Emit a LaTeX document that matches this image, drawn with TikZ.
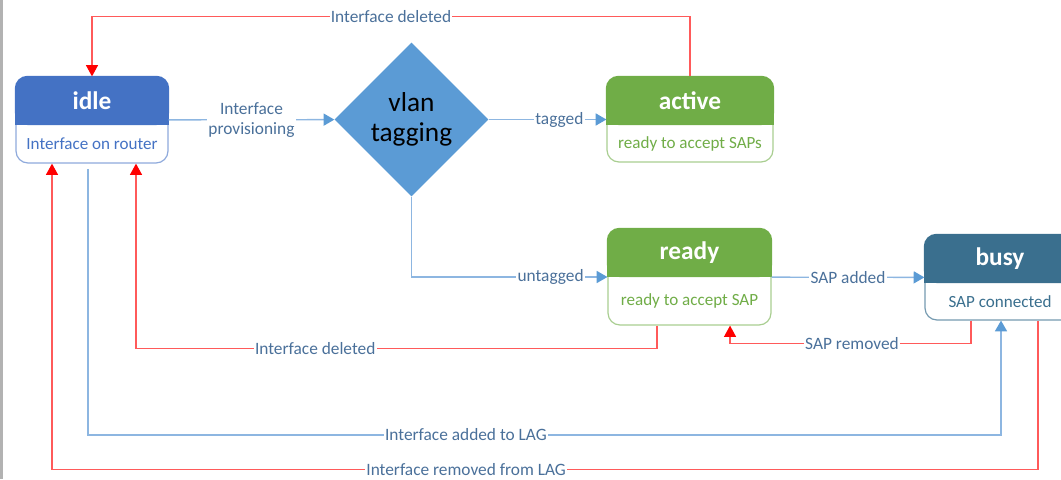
\documentclass[tikz,border=0pt]{standalone}
\usepackage{fontspec}
\setmainfont{Carlito}
\usetikzlibrary{shapes,arrows.meta,positioning,calc}

\definecolor{idlec}{HTML}{4472C4}
\definecolor{vlanc}{HTML}{5B9BD5}
\definecolor{actc}{HTML}{70AD47}
\definecolor{busyc}{HTML}{3A6F8E}
\definecolor{lblc}{HTML}{4A709A}
\definecolor{fwdc}{HTML}{8DB6E1}
\definecolor{fwdtip}{HTML}{5B9BD5}
\definecolor{backc}{HTML}{FF5A5A}

\begin{document}
\begin{tikzpicture}[x=0.75pt,y=-0.75pt]
\tikzstyle{state} = [rectangle, draw, fill=white, rounded corners=9pt,
    line width=0.9pt, inner sep=0pt]
\tikzstyle{title} = [text=white, font=\bfseries\fontsize{19}{21}\selectfont]
\tikzstyle{sub} = [font=\fontsize{12.8}{15}\selectfont]
\tikzstyle{lbl} = [fill=white, text=lblc, inner sep=1pt, align=center,
    font=\fontsize{13}{15}\selectfont]
\tikzstyle{fwd} = [draw=fwdc, line width=1pt, -{Triangle[width=9pt,length=8pt,color=fwdtip]}]
\tikzstyle{back} = [draw=backc, line width=1pt, -{Triangle[width=9pt,length=8.5pt,color=red]}]

\useasboundingbox (0,0) rectangle (1061,479);
\fill[gray!60] (0,0) rectangle (2.5,479);

% states
\node [state, draw=idlec!60, minimum width=114pt, minimum height=64.5pt] (idle) at (92,120) {};
\node [diamond, fill=vlanc, minimum width=115.5pt, minimum height=115.5pt, inner sep=0pt,
    align=center, font=\fontsize{20.5}{22}\selectfont] (vlan) at (411.5,119.5) {vlan\\tagging};
\node [state, draw=actc!60, minimum width=124.5pt, minimum height=63.75pt] (active) at (690,119.5) {};
\node [state, draw=actc!60, minimum width=122.25pt, minimum height=72pt] (ready) at (689.5,277) {};
\node [state, draw=busyc!70, minimum width=112.5pt, minimum height=63.75pt] (busy) at (1000,277.5) {};

\foreach \s/\c/\t/\b in {idle/idlec/idle/Interface on router,
    active/actc/active/ready to accept SAPs,
    ready/actc/ready/ready to accept SAP,
    busy/busyc/busy/SAP connected} {
  \filldraw[\c, line width=0.9pt, rounded corners=9pt] (\s.north west) rectangle ([yshift=-36pt]\s.north east);
  \filldraw[\c, line width=0.9pt] ([yshift=-18pt]\s.north west) rectangle ([yshift=-36pt]\s.north east);
  \node [title] (\s-title) at ([yshift=-18pt]\s.north) {\t};
  \node [sub, text=\c] (\s-sub) at ($([yshift=-36pt]\s.north)!0.5!(\s.south)$) {\b};
}

% forward transitions
\path [fwd] (idle) -- node [lbl] (prov) {Interface\\provisioning} (vlan);
\path [fwd] (vlan) -- node [lbl, pos=0.6] (tag) {tagged} (active);
\path [fwd] (vlan) |- node [lbl, pos=0.855] (untag) {untagged} (ready);
\path [fwd] (ready) -- node [lbl] (sapadd) {SAP added} (busy);
\path [fwd] ([xshift=-3pt,yshift=-4pt]idle.south) -- ++(0,266)
    -| node [lbl, pos=0.207] (lagadd) {Interface added to LAG} ([xshift=0.75pt]busy.south);

% back transitions
\path [back] (active.north) -- ++(0,-60)
    -| node [lbl, pos=0.25] (del1) {Interface deleted} (idle.north);
\path [back] ([xshift=-24.4pt]ready.south) -- ++(0,23)
    -| node [lbl, pos=0.328] (del2) {Interface deleted} ([xshift=33pt]idle.south);
\path [back] ([xshift=-21.75pt]busy.south) -- ++(0,23)
    -| node [lbl, pos=0.247] (saprem) {SAP removed} ([xshift=30.4pt]ready.south);
\path [back] ([xshift=28.5pt]busy.south) -- ++(0,149)
    -| node [lbl, pos=0.29] (lagrem) {Interface removed from LAG} ([xshift=-30pt]idle.south);

\end{tikzpicture}
\end{document}
